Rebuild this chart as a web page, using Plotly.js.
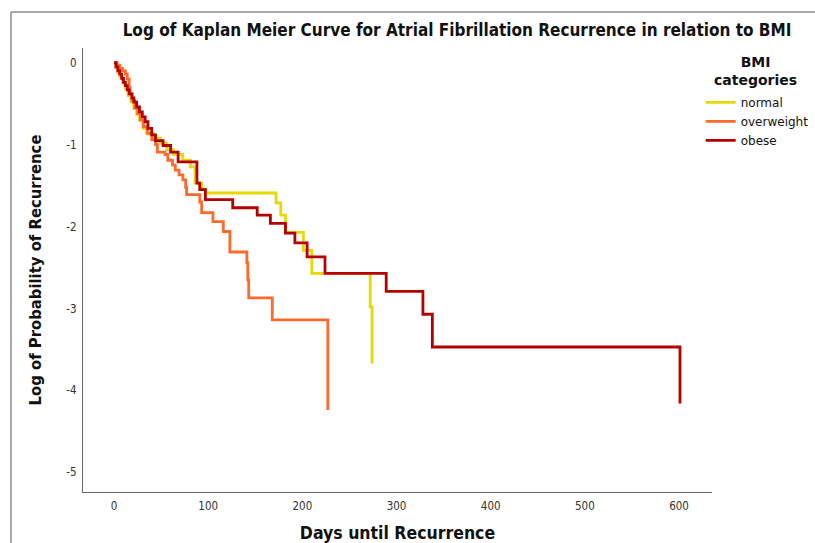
<!DOCTYPE html>
<html>
<head>
<meta charset="utf-8">
<script src="https://cdn.plot.ly/plotly-3.0.1.min.js"></script>
<style>
  html, body { margin: 0; padding: 0; background: #fff; }
  #chart { width: 815px; height: 543px; }
</style>
</head>
<body>
<div id="chart"></div>
<script>
// ---- Data (step points: time, log survival after event) ----
const normalDays = [0, 2, 4, 6, 9, 12, 15, 18, 21, 24, 27, 31, 36, 42, 49, 56, 63, 73, 81, 86, 93, 97, 172, 177, 182, 201, 210, 272, 274];
const normalLog  = [0, -0.06, -0.12, -0.17, -0.24, -0.32, -0.40, -0.48, -0.56, -0.63, -0.70, -0.80, -0.87, -0.92, -0.98, -1.06, -1.12, -1.19, -1.27, -1.47, -1.55, -1.59, -1.71, -1.86, -2.07, -2.29, -2.57, -2.98, -3.67];

const overweightDays = [0, 3, 6, 9, 12, 14, 16, 17, 19, 22, 25, 28, 31, 35, 40, 44, 46, 54, 57, 62, 65, 69, 73, 76, 77, 91, 93, 105, 116, 123, 141, 142, 143, 168, 227];
const overweightLog  = [0, -0.03, -0.07, -0.10, -0.14, -0.20, -0.30, -0.38, -0.46, -0.55, -0.62, -0.70, -0.78, -0.86, -0.94, -1.00, -1.09, -1.12, -1.19, -1.25, -1.31, -1.37, -1.43, -1.52, -1.61, -1.70, -1.83, -1.94, -2.06, -2.31, -2.44, -2.65, -2.87, -3.14, -4.24];

const obeseDays = [0, 2, 4, 6, 8, 10, 12, 14, 16, 19, 21, 24, 27, 30, 33, 36, 40, 44, 52, 60, 68, 88, 91, 97, 126, 152, 166, 182, 192, 205, 224, 289, 328, 338, 601];
const obeseLog  = [0, -0.05, -0.10, -0.14, -0.19, -0.24, -0.28, -0.33, -0.38, -0.43, -0.48, -0.54, -0.60, -0.66, -0.72, -0.80, -0.88, -0.95, -1.01, -1.09, -1.21, -1.47, -1.55, -1.67, -1.77, -1.86, -1.96, -2.08, -2.20, -2.37, -2.57, -2.79, -3.07, -3.47, -4.16];

const seriesNames = ['normal', 'overweight', 'obese'];
const xTickVals = [0, 100, 200, 300, 400, 500, 600];
const xTickText = ['0', '100', '200', '300', '400', '500', '600'];
const yTickVals = [0, -1, -2, -3, -4, -5];
const yTickText = ['0', '-1', '-2', '-3', '-4', '-5'];

const colors = ['#e6d800', '#ff6a2b', '#b50000'];
const FONT = '"DejaVu Sans Condensed", "DejaVu Sans", sans-serif';
const FONT_WIDE = '"DejaVu Sans", sans-serif';

const xs = [normalDays, overweightDays, obeseDays];
const ys = [normalLog, overweightLog, obeseLog];

const traces = seriesNames.map((n, i) => ({
  type: 'scatter',
  mode: 'lines',
  name: n,
  x: xs[i],
  y: ys[i],
  line: { shape: 'hv', color: colors[i], width: 2.8 },
  hoverinfo: 'x+y+name'
}));

const layout = {
  width: 815,
  height: 543,
  margin: { l: 83, r: 103, t: 48, b: 51, autoexpand: false },
  paper_bgcolor: '#ffffff',
  plot_bgcolor: '#ffffff',
  font: { family: FONT, color: '#222' },
  showlegend: true,
  title: {
    text: '<b>Log of Kaplan Meier Curve for Atrial Fibrillation Recurrence in relation to BMI</b>',
    font: { family: FONT, size: 17, color: '#111' },
    x: 457 / 815, xanchor: 'center',
    y: 1 - 30 / 543, yanchor: 'middle'
  },
  xaxis: {
    range: [-33, 635],
    showgrid: false, zeroline: false,
    showline: true, linecolor: '#666', linewidth: 1,
    ticks: '',
    tickvals: xTickVals, ticktext: xTickText,
    tickfont: { family: FONT, size: 11.5, color: '#333' },
    ticklabelstandoff: 3,
    automargin: true,
    title: { text: '<b>Days until Recurrence</b>', font: { family: FONT, size: 17.5, color: '#111' }, standoff: 26 },
    fixedrange: true
  },
  yaxis: {
    range: [-5.24, 0.18],
    showgrid: false, zeroline: false,
    showline: true, linecolor: '#666', linewidth: 1,
    ticks: '',
    tickvals: yTickVals, ticktext: yTickText,
    tickfont: { family: FONT, size: 11.5, color: '#333' },
    ticklabelstandoff: 3,
    title: { text: '<b>Log of Probability of Recurrence</b>', font: { family: FONT, size: 16.5, color: '#111' }, standoff: 20 },
    fixedrange: true
  },
  legend: {
    x: 0.982, xanchor: 'left',
    y: 0.91, yanchor: 'top',
    font: { family: FONT_WIDE, size: 12, color: '#111' },
    bgcolor: 'rgba(0,0,0,0)',
    borderwidth: 0,
    itemwidth: 30,
    tracegroupgap: 0
  },
  annotations: [
    {
      xref: 'paper', yref: 'paper',
      x: (755 - 83) / 629, y: (492 - 71) / 444,
      xanchor: 'center', yanchor: 'middle',
      text: '<b>BMI</b><br><b>categories</b>',
      showarrow: false,
      font: { family: FONT_WIDE, size: 14, color: '#111' }
    }
  ],
  shapes: [{
    type: 'rect', xref: 'paper', yref: 'paper',
    x0: (11 - 83) / 629, x1: 1.4,
    y0: -0.4, y1: (492 - 12) / 444,
    line: { color: '#555', width: 1 },
    fillcolor: 'rgba(0,0,0,0)',
    layer: 'below'
  }]
};

Plotly.newPlot('chart', traces, layout, { displayModeBar: false, staticPlot: true });
</script>
</body>
</html>
